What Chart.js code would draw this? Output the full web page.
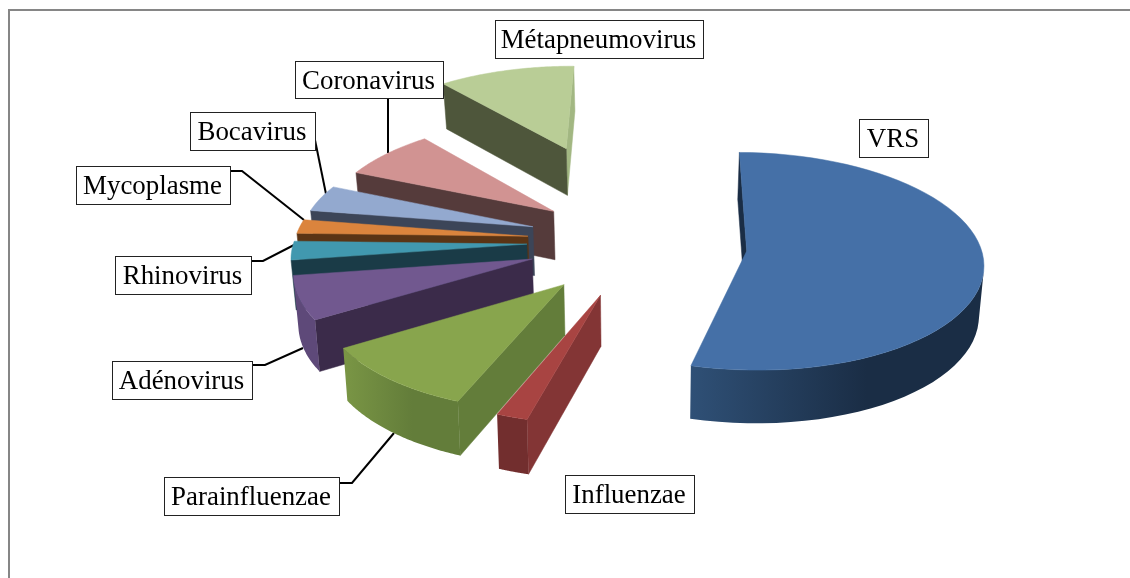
<!DOCTYPE html>
<html>
<head>
<meta charset="utf-8">
<style>
  body { margin: 0; background: #fff; }
  canvas { display: block; }
</style>
<script src="https://cdn.jsdelivr.net/npm/chart.js@4"></script>
</head>
<body>
<canvas id="pie" width="1130" height="578"></canvas>
<script>
const categories = ["VRS", "Influenzae", "Parainfluenzae", "Adénovirus", "Rhinovirus", "Mycoplasme", "Bocavirus", "Coronavirus", "Métapneumovirus"];
const values = [54.0, 1.9, 10.1, 6.5, 2.8, 2.1, 4.0, 7.5, 11.1];
const explode = [108, 120, 118, 113, 113, 113, 113, 111, 235];
const explodeTurn = [4, 0, -1.5, 0, 0, 0, 0, 0, -0.5];

const topColors = ["#4570a7", "#a84442", "#88a54d", "#71588f", "#4198af", "#db843d", "#93a9cf", "#d19392", "#b9cd96"];
const sideColors = ["#1a2d45", "#833535", "#637d3a", "#3b2b4a", "#1a3b47", "#5a3415", "#3c4558", "#553b3b", "#4e563b"];
const rimLight = ["#2f5076", "#722e2e", "#7a9645", "#5e4979", "#33788c", "#a9632c", "#6f81a0", "#a07070", "#a2b782"];
const rimDark = ["#1a2d45", "#722e2e", "#637d3a", "#5e4979", "#33788c", "#a9632c", "#6f81a0", "#a07070", "#a2b782"];

// label boxes: x, y, w, h and the leader line going to the slice
const labelBoxes = [
  { box: [859, 119, 69, 38] },
  { box: [565, 475, 129, 38] },
  { box: [164, 477, 175, 38], leader: [[339, 483], [352, 483], [394, 433]] },
  { box: [112, 361, 140, 38], leader: [[252, 365], [265, 365], [303, 348]] },
  { box: [115, 256, 136, 38], leader: [[251, 261], [263, 261], [294, 245]] },
  { box: [76, 166, 154, 38], leader: [[230, 171], [242, 171], [304, 220]] },
  { box: [190, 112, 125, 38], leader: [[315, 140], [326, 194]] },
  { box: [295, 61, 148, 37], leader: [[388, 98], [388, 153]] },
  { box: [495, 20, 208, 38] }
];

const tilt = 0.455;
const depth = 50;
const persp = 0.0004;
const perspZ = 0.0003;

function project(el, u, v, z) {
  let s = 1 / (1 - persp * v) + perspZ * z;
  return [el.x + u * s, el.y + v * tilt * s - z * s];
}

function trace(ctx, pts) {
  ctx.beginPath();
  pts.forEach((p, i) => (i ? ctx.lineTo(p[0], p[1]) : ctx.moveTo(p[0], p[1])));
  ctx.closePath();
}

function fillPoly(ctx, pts, color) {
  trace(ctx, pts);
  ctx.fillStyle = color;
  ctx.fill();
  ctx.strokeStyle = typeof color === "string" ? color : "rgba(0,0,0,0)";
  ctx.lineWidth = 0.5;
  ctx.stroke();
}

// wall under the screen edge a->b faces the viewer when this is true
function facing(a, b, aLow) {
  return (b[0] - a[0]) * (aLow[1] - a[1]) - (b[1] - a[1]) * (aLow[0] - a[0]) < 0;
}

function explodeOffset(el, i) {
  let mid = (el.startAngle + el.endAngle) / 2 + (explodeTurn[i] * Math.PI) / 180;
  return [Math.cos(mid) * explode[i], Math.sin(mid) * explode[i]];
}

function drawSlice(ctx, el, i) {
  let [ox, oy] = explodeOffset(el, i);
  let r = el.outerRadius;
  let n = 60;

  let rim = [];
  for (let k = 0; k <= n; k++) {
    let a = el.startAngle + ((el.endAngle - el.startAngle) * k) / n;
    rim.push([ox + Math.cos(a) * r, oy + Math.sin(a) * r]);
  }
  let top = (p) => project(el, p[0], p[1], 0);
  let low = (p) => project(el, p[0], p[1], -depth);
  let apex = [ox, oy];

  // end wall then start wall
  let endA = rim[n], startA = rim[0];
  if (facing(top(endA), top(apex), low(endA))) {
    fillPoly(ctx, [top(endA), top(apex), low(apex), low(endA)], rimLight[i]);
  }
  if (facing(top(apex), top(startA), low(apex))) {
    fillPoly(ctx, [top(apex), top(startA), low(startA), low(apex)], sideColors[i]);
  }

  // curved wall, only the part turned to the viewer
  let seen = [];
  for (let k = 0; k < n; k++) {
    if (facing(top(rim[k]), top(rim[k + 1]), low(rim[k]))) {
      if (!seen.length) seen.push(k);
      seen.push(k + 1);
    }
  }
  if (seen.length) {
    let upper = seen.map((k) => top(rim[k]));
    let lower = seen.map((k) => low(rim[k])).reverse();
    let xs = upper.map((p) => p[0]);
    let x0 = Math.min(...xs), x1 = Math.max(...xs);
    let grad = ctx.createLinearGradient(x0, 0, x1, 0);
    grad.addColorStop(0, rimLight[i]);
    grad.addColorStop(0.6, rimDark[i]);
    grad.addColorStop(1, rimDark[i]);
    fillPoly(ctx, upper.concat(lower), grad);
  }

  fillPoly(ctx, [top(apex)].concat(rim.map(top)), topColors[i]);
}

function drawLabel(ctx, i) {
  let [x, y, w, h] = labelBoxes[i].box;
  ctx.fillStyle = "#fff";
  ctx.fillRect(x, y, w, h);
  ctx.strokeStyle = "#222";
  ctx.lineWidth = 1;
  ctx.strokeRect(x + 0.5, y + 0.5, w, h);
  ctx.fillStyle = "#000";
  ctx.font = '26.9px "Liberation Serif"';
  ctx.textAlign = "center";
  ctx.textBaseline = "middle";
  ctx.fillText(categories[i], x + w / 2 - 0.5, y + h / 2 + 2);
}

const fakePie3d = {
  id: "fakePie3d",
  beforeDatasetsDraw(chart) {
    let ctx = chart.ctx;
    let arcs = chart.getDatasetMeta(0).data;

    ctx.save();
    ctx.strokeStyle = "#868686";
    ctx.lineWidth = 2;
    ctx.beginPath();
    ctx.moveTo(9, 578);
    ctx.lineTo(9, 10);
    ctx.lineTo(1130, 10);
    ctx.stroke();

    ctx.strokeStyle = "#000";
    ctx.lineWidth = 2;
    labelBoxes.forEach((l) => {
      if (!l.leader) return;
      ctx.beginPath();
      l.leader.forEach((p, k) => (k ? ctx.lineTo(p[0], p[1]) : ctx.moveTo(p[0], p[1])));
      ctx.stroke();
    });

    // back slices first
    let order = arcs.map((el, i) => i);
    let depthOf = (i) => explodeOffset(arcs[i], i)[1];
    order.sort((a, b) => depthOf(a) - depthOf(b));
    order.forEach((i) => drawSlice(ctx, arcs[i], i));

    categories.forEach((c, i) => drawLabel(ctx, i));
    ctx.restore();
    return false;
  },
};

new Chart(document.getElementById("pie"), {
  type: "pie",
  data: {
    labels: categories,
    datasets: [{ data: values, backgroundColor: topColors, radius: 233, borderWidth: 0 }],
  },
  options: {
    responsive: false,
    animation: false,
    rotation: 0.5,
    layout: { padding: { left: 150, right: 0, top: 0, bottom: 96 } },
    plugins: { legend: { display: false }, tooltip: { enabled: false } },
  },
  plugins: [fakePie3d],
});
</script>
</body>
</html>
